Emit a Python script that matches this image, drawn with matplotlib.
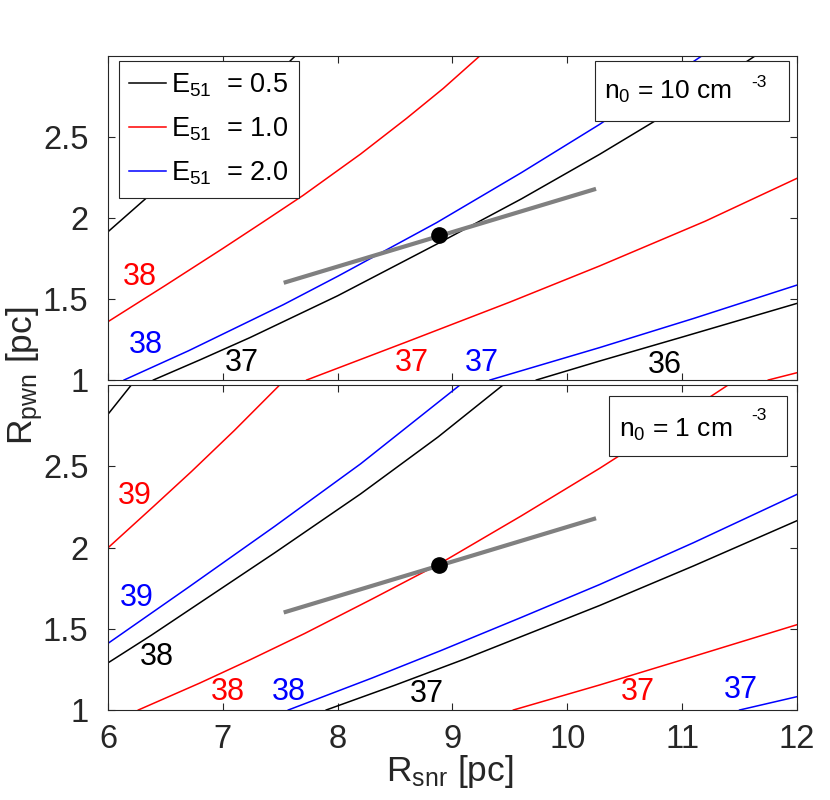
import matplotlib
matplotlib.use("Agg")
import matplotlib.pyplot as plt
from matplotlib.patches import Rectangle

plt.rcParams['font.family'] = ['Liberation Sans', 'DejaVu Sans']
plt.rcParams['mathtext.fontset'] = 'custom'
plt.rcParams['mathtext.rm'] = 'Liberation Sans'
plt.rcParams['mathtext.it'] = 'Liberation Sans'
plt.rcParams['mathtext.default'] = 'regular'

# ---------------- data ----------------
energy_labels = ['0.5', '1.0', '2.0']
energy_colors = ['black', 'red', 'blue']
density_labels = ['10', '1']

# Top panel (n0 = 10 cm^-3)
top_black38_x = [6.0, 6.38, 7.0, 7.63]
top_black38_y = [1.915, 2.152, 2.56, 3.0]
top_black37_x = [6.395, 6.8, 7.237, 8.0, 8.861, 9.6, 10.281, 11.0, 11.634]
top_black37_y = [1.0, 1.124, 1.262, 1.52, 1.838, 2.118, 2.393, 2.70, 3.0]
top_black36_x = [9.73, 10.281, 11.0, 12.0]
top_black36_y = [1.0, 1.117, 1.265, 1.473]
top_red38_x = [6.0, 6.5, 7.0, 7.35, 7.7, 8.2, 8.6, 8.92, 9.237]
top_red38_y = [1.36, 1.584, 1.812, 1.975, 2.14, 2.395, 2.615, 2.80, 3.0]
top_red37_x = [7.73, 8.6, 9.5, 10.281, 11.2, 12.0]
top_red37_y = [1.0, 1.235, 1.481, 1.704, 1.98, 2.245]
top_red36_x = [11.75, 12.0]
top_red36_y = [1.0, 1.045]
top_blue38_x = [6.14, 6.7, 7.237, 7.527, 8.0, 8.861, 9.6, 10.281, 11.17]
top_blue38_y = [1.0, 1.18, 1.365, 1.465, 1.64, 1.971, 2.28, 2.578, 3.0]
top_blue37_x = [9.327, 10.281, 11.1, 12.0]
top_blue37_y = [1.0, 1.2, 1.38, 1.586]

# Bottom panel (n0 = 1 cm^-3)
bot_black39_x = [6.0, 6.203]
bot_black39_y = [2.82, 3.0]
bot_black38_x = [6.0, 6.377, 7.451, 8.2, 8.874, 9.44]
bot_black38_y = [1.29, 1.46, 1.967, 2.33, 2.68, 3.0]
bot_black37_x = [7.90, 8.5, 9.1, 10.281, 11.1, 12.0]
bot_black37_y = [1.0, 1.153, 1.312, 1.643, 1.887, 2.165]
bot_red39_x = [6.0, 6.4, 6.726, 7.1, 7.495]
bot_red39_y = [1.998, 2.255, 2.467, 2.72, 3.0]
bot_red38_x = [6.264, 6.8, 7.237, 7.713, 8.3, 8.88, 9.6, 10.281, 10.9, 11.40]
bot_red38_y = [1.0, 1.166, 1.309, 1.471, 1.683, 1.897, 2.195, 2.487, 2.767, 3.0]
bot_red37_x = [9.53, 10.281, 11.1, 12.0]
bot_red37_y = [1.0, 1.154, 1.33, 1.525]
bot_blue39_x = [6.0, 6.116, 6.7, 7.451, 8.2, 8.874, 9.065]
bot_blue39_y = [1.41, 1.467, 1.755, 2.13, 2.515, 2.893, 3.0]
bot_blue38_x = [7.57, 8.3, 8.9, 9.6, 10.281, 11.1, 12.0]
bot_blue38_y = [1.0, 1.197, 1.366, 1.57, 1.772, 2.03, 2.327]
bot_blue37_x = [11.50, 12.0]
bot_blue37_y = [1.0, 1.082]

# contour level labels: text, x, y, color index
top_label_text = ['38', '38', '37', '37', '37', '36']
top_label_x = [6.28, 6.33, 7.164, 8.645, 9.254, 10.85]
top_label_y = [1.636, 1.216, 1.105, 1.107, 1.107, 1.093]
top_label_color = [1, 2, 0, 1, 2, 0]
bot_label_text = ['39', '39', '38', '38', '38', '37', '37', '37']
bot_label_x = [6.235, 6.25, 6.424, 7.04, 7.576, 8.776, 10.61, 11.51]
bot_label_y = [2.317, 1.69, 1.329, 1.111, 1.111, 1.099, 1.113, 1.123]
bot_label_color = [1, 2, 0, 1, 2, 0, 1, 2]

# observed constraint (gray segment) and measured point
seg_x = [7.53, 10.25]
seg_y = [1.60, 2.18]
obs_x = [8.88]
obs_y = [1.895]

x_ticks = [6, 7, 8, 9, 10, 11, 12]
y_ticks = [1, 1.5, 2, 2.5]
y_tick_labels = ['1', '1.5', '2', '2.5']

# ---------------- figure ----------------
W, H = 830, 800
fig = plt.figure(figsize=(W / 100, H / 100), dpi=100)
AX_C = '#262626'

def px_axes(l, t, r, b):
    return [l / W, 1 - b / H, (r - l) / W, (b - t) / H]

ax1 = fig.add_axes(px_axes(108, 56, 797, 380))
ax2 = fig.add_axes(px_axes(108, 385, 797, 710))

top_curves = [
    (0, top_black38_x, top_black38_y), (0, top_black37_x, top_black37_y),
    (0, top_black36_x, top_black36_y),
    (1, top_red38_x, top_red38_y), (1, top_red37_x, top_red37_y),
    (1, top_red36_x, top_red36_y),
    (2, top_blue38_x, top_blue38_y), (2, top_blue37_x, top_blue37_y),
]
bot_curves = [
    (0, bot_black39_x, bot_black39_y), (0, bot_black38_x, bot_black38_y),
    (0, bot_black37_x, bot_black37_y),
    (1, bot_red39_x, bot_red39_y), (1, bot_red38_x, bot_red38_y),
    (1, bot_red37_x, bot_red37_y),
    (2, bot_blue39_x, bot_blue39_y), (2, bot_blue38_x, bot_blue38_y),
    (2, bot_blue37_x, bot_blue37_y),
]

handles = {}
for ax, curves, ltxt, lx, ly, lc in [
        (ax1, top_curves, top_label_text, top_label_x, top_label_y, top_label_color),
        (ax2, bot_curves, bot_label_text, bot_label_x, bot_label_y, bot_label_color)]:
    for ci, xs, ys in curves:
        ln, = ax.plot(xs, ys, color=energy_colors[ci], lw=1.1, zorder=2,
                      solid_joinstyle='round')
        if ax is ax1 and ci not in handles:
            handles[ci] = ln
    for t, x, y, c in zip(ltxt, lx, ly, lc):
        ax.text(x, y, t, color=energy_colors[c], fontsize=22,
                ha='center', va='center', zorder=3)
    ax.plot(seg_x, seg_y, color='#808080', lw=3, solid_capstyle='butt', zorder=3)
    ax.plot(obs_x, obs_y, 'o', color='black', ms=11, zorder=4)

    ax.set_xlim(6, 12)
    ax.set_ylim(1, 3)
    ax.set_xticks(x_ticks)
    ax.set_yticks(y_ticks)
    ax.set_yticklabels(y_tick_labels)
    ax.tick_params(direction='in', length=5, width=0.8, colors=AX_C,
                   top=True, right=True, labelsize=23.5)
    ax.tick_params(axis='y', pad=14)
    for s in ax.spines.values():
        s.set_color(AX_C)
        s.set_linewidth(0.8)

ax1.tick_params(labelbottom=False)
ax2.set_xticklabels([str(v) for v in x_ticks])
ax2.tick_params(axis='x', pad=10)

leg = ax1.legend([handles[i] for i in range(3)],
                 [r'E$_{51}$  = ' + e for e in energy_labels],
                 loc='upper left', bbox_to_anchor=(0.016, 0.985),
                 borderaxespad=0, fontsize=19.5, fancybox=False, framealpha=1,
                 edgecolor=AX_C, handlelength=1.35, handletextpad=0.2,
                 labelspacing=0.62, borderpad=0.38)
leg.get_frame().set_linewidth(0.8)
leg.set_zorder(10)

# density boxes
for ax, dens, (bx, by, bw, bh), (tx, ty), (sx, sy) in [
        (ax1, density_labels[0], (0.7068, 0.7994, 0.2816, 0.185), (0.720, 0.867), (0.934, 0.904)),
        (ax2, density_labels[1], (0.727, 0.7815, 0.258, 0.1846), (0.741, 0.841), (0.934, 0.892))]:
    ax.add_patch(Rectangle((bx, by), bw, bh, transform=ax.transAxes,
                           facecolor='white', edgecolor=AX_C, lw=0.8, zorder=9))
    ax.text(tx, ty, r'n$_0$ = ' + dens + ' cm', transform=ax.transAxes,
            fontsize=19, ha='left', va='baseline', zorder=10)
    ax.text(sx, sy, '-3', transform=ax.transAxes,
            fontsize=12.5, ha='left', va='baseline', zorder=10)

fig.text(450 / W, 1 - 781 / H, r'R$_{snr}$ [pc]', fontsize=25.5, color=AX_C,
         ha='center', va='baseline')
fig.text(32 / W, 1 - 376 / H, r'R$_{pwn}$ [pc]', fontsize=25.5, color=AX_C,
         ha='center', va='baseline', rotation=90, rotation_mode='anchor')

fig.savefig('out.png', dpi=100)
